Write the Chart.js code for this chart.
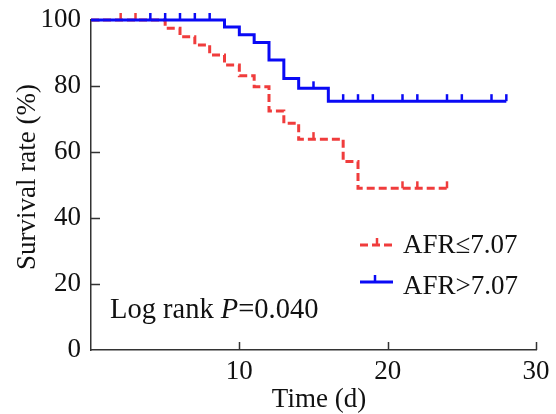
<!DOCTYPE html>
<html>
<head>
<meta charset="utf-8">
<script src="https://cdn.jsdelivr.net/npm/chart.js@4"></script>
<style>
  html, body { margin: 0; padding: 0; background: #fff; }
  #wrap { width: 556px; height: 414px; position: relative; }
</style>
</head>
<body>
<div id="wrap"><canvas id="kmChart"></canvas></div>
<script>
// Kaplan-Meier steps (time in days, survival in %)
const lowTimes = [0, 5, 6, 7, 8, 9, 10, 11, 12, 13, 14, 17, 18, 24];
const lowSurv = [100, 97.5, 94.9, 92.4, 89.4, 86.4, 83.1, 79.8, 72.4, 68.7, 63.9, 57.1, 49.0, 49.0];
const lowCensor = [2, 3, 15, 21, 22, 24];

const highTimes = [0, 9, 10, 11, 12, 13, 14, 16, 28];
const highSurv = [100, 97.9, 95.5, 93.2, 87.9, 82.3, 79.3, 75.4, 75.4];
const highCensor = [4, 5, 6, 7, 8, 15, 17, 18, 19, 21, 22, 24, 25, 27, 28];

const xTicks = [10, 20, 30];
const yTicks = [0, 20, 40, 60, 80, 100];

const labels = ['AFR≤7.07', 'AFR>7.07'];
const RED = '#f03c3c';
const BLUE = '#0a0af5';
const AXIS = '#333';
const FONT = "'Liberation Serif', 'Times New Roman', serif";

// survival level at time t for a step curve
function levelAt(times, surv, t) {
  let s = surv[0];
  for (let i = 0; i < times.length; i++) {
    if (times[i] <= t) s = surv[i];
  }
  return s;
}

const pts = (xs, ys) => xs.map((x, i) => ({ x: x, y: ys[i] }));
const censorPts = (cs, xs, ys) => cs.map(t => ({ x: t, y: levelAt(xs, ys, t) }));

Chart.defaults.font.family = FONT;
Chart.defaults.font.size = 27;
Chart.defaults.color = '#111';

// inner tick marks, axis titles, log-rank note and legend
const decor = {
  id: 'decor',
  beforeDatasetsDraw(chart) {
    const c = chart.ctx;
    const xs = chart.scales.x, ys = chart.scales.y;
    c.save();
    c.strokeStyle = AXIS;
    c.lineWidth = 1.5;
    c.beginPath();
    xTicks.forEach(v => {
      const px = Math.round(xs.getPixelForValue(v)) + 0.5;
      c.moveTo(px, ys.bottom);
      c.lineTo(px, ys.bottom - 8);
    });
    yTicks.slice(1).forEach(v => {
      const py = Math.round(ys.getPixelForValue(v)) + 0.5;
      c.moveTo(xs.left, py);
      c.lineTo(xs.left + 9, py);
    });
    c.stroke();
    c.restore();
  },
  afterDraw(chart) {
    const c = chart.ctx;
    c.save();
    c.fillStyle = '#111';

    // axis titles
    c.font = '27px ' + FONT;
    c.textAlign = 'center';
    c.textBaseline = 'middle';
    c.fillText('Time (d)', 319, 400);
    c.save();
    c.translate(28, 177);
    c.rotate(-Math.PI / 2);
    c.fillText('Survival rate (%)', 0, 0);
    c.restore();

    // log rank note
    c.textAlign = 'left';
    c.textBaseline = 'alphabetic';
    const base = 318;
    let x = 110;
    c.font = '28.5px ' + FONT;
    c.fillText('Log rank ', x, base);
    x += c.measureText('Log rank ').width;
    c.font = 'italic 28.5px ' + FONT;
    c.fillText('P', x, base);
    x += c.measureText('P').width;
    c.font = '28.5px ' + FONT;
    c.fillText('=0.040', x, base);

    // legend
    c.font = '27px ' + FONT;
    const items = [
      { y: 245, color: RED, dash: [8, 4], tick: 377, text: labels[0], base: 253 },
      { y: 282, color: BLUE, dash: [], tick: 375, text: labels[1], base: 294 }
    ];
    items.forEach(it => {
      c.strokeStyle = it.color;
      c.lineWidth = 3;
      c.setLineDash(it.dash);
      c.beginPath();
      c.moveTo(360, it.y);
      c.lineTo(393, it.y);
      c.stroke();
      c.setLineDash([]);
      c.lineWidth = 2.5;
      c.beginPath();
      c.moveTo(it.tick, it.y);
      c.lineTo(it.tick, it.y - 7);
      c.stroke();
      c.fillStyle = '#111';
      c.fillText(it.text, 403, it.base);
    });
    c.restore();
  }
};

const kmChart = new Chart(document.getElementById('kmChart'), {
  type: 'line',
  data: {
    datasets: [
      {
        label: labels[1] + ' censored',
        data: censorPts(highCensor, highTimes, highSurv),
        showLine: false,
        pointStyle: 'dash',
        rotation: 270,
        pointRadius: 7,
        pointBorderWidth: 2.5,
        borderColor: BLUE,
        clip: false,
        order: 0
      },
      {
        label: labels[1],
        data: pts(highTimes, highSurv),
        stepped: true,
        borderColor: BLUE,
        borderWidth: 3,
        pointRadius: 0,
        fill: false,
        clip: false,
        order: 1
      },
      {
        label: labels[0] + ' censored',
        data: censorPts(lowCensor, lowTimes, lowSurv),
        showLine: false,
        pointStyle: 'dash',
        rotation: 270,
        pointRadius: 7,
        pointBorderWidth: 2.5,
        borderColor: RED,
        clip: false,
        order: 2
      },
      {
        label: labels[0],
        data: pts(lowTimes, lowSurv),
        stepped: true,
        borderColor: RED,
        borderDash: [8, 4],
        borderWidth: 3,
        pointRadius: 0,
        fill: false,
        clip: false,
        order: 3
      }
    ]
  },
  options: {
    responsive: true,
    maintainAspectRatio: false,
    animation: false,
    layout: { padding: { top: 20, right: 20, left: 0, bottom: 0 } },
    plugins: {
      legend: { display: false },
      tooltip: { enabled: false }
    },
    scales: {
      x: {
        type: 'linear',
        min: 0,
        max: 30,
        afterFit: s => { s.height = 64; s.paddingLeft = 0; s.paddingRight = 0; },
        grid: { display: false, drawTicks: false },
        border: { display: true, color: AXIS, width: 1.5 },
        ticks: {
          stepSize: 10,
          padding: 6,
          color: '#111',
          callback: v => (v === 0 ? '' : v)
        }
      },
      y: {
        min: 0,
        max: 100,
        afterFit: s => { s.width = 91; s.paddingTop = 0; s.paddingBottom = 0; },
        grid: { display: false, drawTicks: false },
        border: { display: true, color: AXIS, width: 1.5 },
        ticks: { stepSize: 20, padding: 10, color: '#111' }
      }
    }
  },
  plugins: [decor]
});
</script>
</body>
</html>
